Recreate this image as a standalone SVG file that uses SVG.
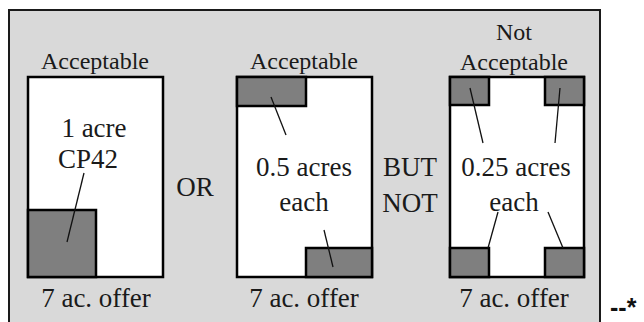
<svg xmlns="http://www.w3.org/2000/svg" width="644" height="322" viewBox="0 0 644 322">
<style>
.m{font-size:27px}
.s{font-size:24px}
.box{fill:#fff;stroke:#000;stroke-width:2.5}
.dk{fill:#7f7f7f;stroke:#000;stroke-width:2.5}
.ld{stroke:#111;stroke-width:1.3;fill:none}
</style>
<rect x="9" y="10" width="591" height="320" fill="#d9d9d9" stroke="#1a1a1a" stroke-width="2"/>
<g font-family="'Liberation Serif', 'Times New Roman', serif" fill="#1a1a1a" text-anchor="middle">
<g id="plot1">
<text class="s" x="95" y="69">Acceptable</text>
<rect class="box" x="28" y="77" width="135" height="200"/>
<rect class="dk" x="28" y="210" width="68" height="67"/>
<text class="m" x="94" y="137">1 acre</text>
<text class="m" x="88" y="168">CP42</text>
<text class="m" x="96" y="307">7 ac. offer</text>
</g>
<g id="or"><text class="m" x="195" y="196">OR</text></g>
<g id="plot2">
<text class="s" x="304" y="69">Acceptable</text>
<rect class="box" x="237" y="77" width="135" height="200"/>
<rect class="dk" x="237" y="77" width="69" height="29"/>
<rect class="dk" x="306" y="248" width="66" height="29"/>
<text class="m" x="304" y="176">0.5 acres</text>
<text class="m" x="304" y="211">each</text>
<text class="m" x="304" y="307">7 ac. offer</text>
</g>
<g id="butnot"><text class="m" x="410" y="176">BUT</text><text class="m" x="410" y="212">NOT</text></g>
<g id="plot3">
<text class="s" x="514" y="40">Not</text>
<text class="s" x="514" y="70">Acceptable</text>
<rect class="box" x="450" y="77" width="134" height="200"/>
<rect class="dk" x="450" y="77" width="39" height="28"/>
<rect class="dk" x="545" y="77" width="39" height="28"/>
<rect class="dk" x="450" y="248" width="39" height="29"/>
<rect class="dk" x="545" y="248" width="39" height="29"/>
<text class="m" x="516" y="176">0.25 acres</text>
<text class="m" x="514" y="211">each</text>
<text class="m" x="514" y="307">7 ac. offer</text>
</g>
</g>
<g id="connectors">
<line class="ld" x1="84" y1="173" x2="67" y2="242"/>
<line class="ld" x1="271" y1="97" x2="286" y2="135"/>
<line class="ld" x1="324" y1="230" x2="333" y2="267"/>
<line class="ld" x1="470" y1="88" x2="483" y2="143"/>
<line class="ld" x1="560" y1="88" x2="555" y2="143"/>
<line class="ld" x1="498" y1="212" x2="488" y2="248"/>
<line class="ld" x1="548" y1="212" x2="563" y2="248"/>
</g>
<text x="610" y="316" font-family="'Liberation Sans', Arial, sans-serif" font-weight="bold" font-size="25" fill="#111">--*</text>
</svg>
